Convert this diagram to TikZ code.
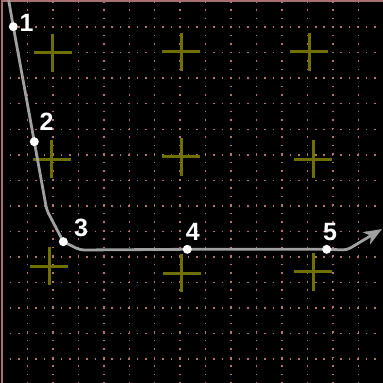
\documentclass[tikz,border=0pt]{standalone}
\usepackage{fontspec}
\setmainfont{Liberation Sans}
\usetikzlibrary{arrows.meta}
\definecolor{gridpink}{RGB}{176,118,118}
\definecolor{borderpink}{RGB}{168,112,112}
\definecolor{crossolive}{RGB}{112,112,0}
\definecolor{pathgray}{RGB}{160,160,160}
\pgfdeclarelayer{bg}
\pgfsetlayers{bg,main}
\tikzset{
  gridline/.style={gridpink, line width=1.5pt, dash pattern=on 1.5pt off 6.98pt, dash phase=0.75pt},
  borderline/.style={borderpink, line width=2pt},
  crossline/.style={crossolive, line width=3pt},
  pt/.style={circle, fill=white, inner sep=0pt, minimum size=9pt},
  lbl/.style={text=white, inner sep=0pt, font=\fontsize{25}{30}\selectfont\bfseries},
  track/.style={pathgray, line width=2.8pt, rounded corners=4pt},
}
\begin{document}
\begin{tikzpicture}[x=1pt,y=-1pt]
\useasboundingbox (0,0) rectangle (383,383);
% points and labels
\node[pt] (p1) at (13.3,26.7) {};
\node[pt] (p2) at (34.3,141.7) {};
\node[pt] (p3) at (63.3,241.7) {};
\node[pt] (p4) at (187.3,249.3) {};
\node[pt] (p5) at (326.7,249.3) {};
\node[lbl] (l1) at (26.7,23.3) {1};
\node[lbl] (l2) at (46.7,121.7) {2};
\node[lbl] (l3) at (81,228.3) {3};
\node[lbl] (l4) at (192.7,231.7) {4};
\node[lbl] (l5) at (330,231.7) {5};
\coordinate (s) at (8.3,-2);
\coordinate (b1) at (46.7,210);
\coordinate (b2) at (80,250);
\coordinate (b3) at (347,250);
\coordinate (tip) at (382,229);
\begin{pgfonlayer}{bg}
\fill[black] (0,0) rectangle (383,383);
\foreach \k in {1,...,14} {
  \draw[gridline] ({2+25.45*\k},1.5) -- ({2+25.45*\k},383);
  \draw[gridline] (2,{1.5+25.55*\k}) -- (383,{1.5+25.55*\k});
}
\draw[borderline] (2,383) -- (2,1) -- (383,1);
\foreach \cx/\cy in {52.5/52.7, 181/51.7, 309.3/51.7, 51.7/159, 181/156.7, 313.3/159, 49.3/266, 181.7/273.3, 313.3/271.7} {
  \draw[crossline] ({\cx-19},\cy) -- ({\cx+19},\cy);
  \draw[crossline] (\cx,{\cy-19}) -- (\cx,{\cy+19});
}
\draw[track, -{Stealth[length=18pt,width=14pt,inset=5pt]}] (s) -- (p1.center) -- (p2.center) -- (b1) -- (p3.center) -- (b2) -- (p4.center) -- (p5.center) -- (b3) -- (tip);
\end{pgfonlayer}
\end{tikzpicture}
\end{document}
